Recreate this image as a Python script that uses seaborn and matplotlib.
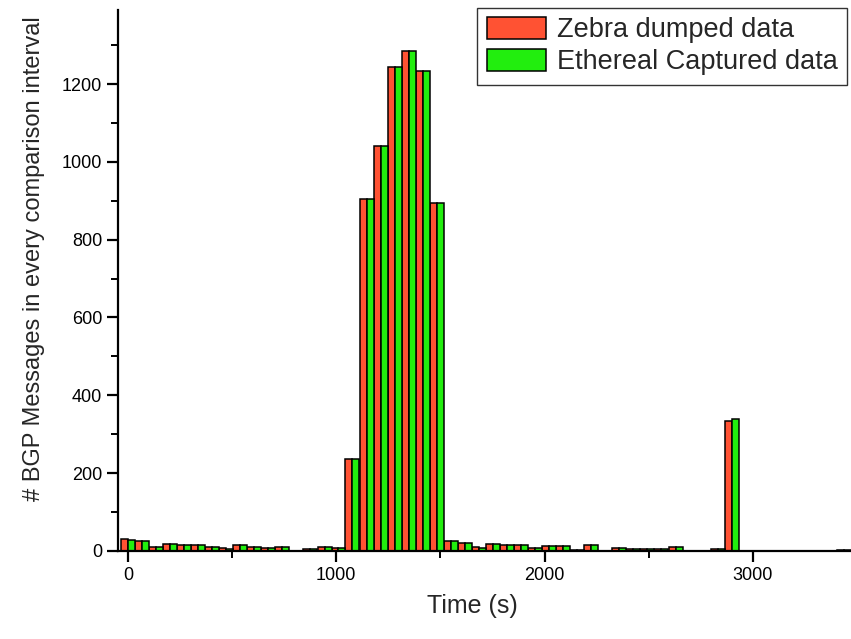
import matplotlib
matplotlib.use("Agg")
import matplotlib.pyplot as plt
import seaborn as sns
import pandas as pd
from matplotlib.ticker import MultipleLocator

# ---- data ----
times = [0, 67, 135, 202, 270, 337, 404, 472, 539, 607, 674, 741, 809, 876,
         944, 1011, 1078, 1146, 1213, 1281, 1348, 1415, 1483, 1550, 1618,
         1685, 1752, 1820, 1887, 1955, 2022, 2089, 2157, 2224, 2292, 2359,
         2426, 2494, 2561, 2629, 2696, 2763, 2831, 2898, 2966, 3033, 3100,
         3168, 3235, 3303, 3370, 3437]
zebra = [30, 24, 11, 17, 15, 14, 9, 6, 14, 9, 6, 9, 0, 5,
         10, 6, 235, 905, 1040, 1245, 1285, 1235, 895, 24, 20,
         9, 17, 14, 14, 7, 12, 12, 2, 14, 0, 7,
         4, 4, 4, 9, 0, 0, 4, 335, 0, 0, 0,
         0, 0, 0, 0, 2]
ethereal = [28, 24, 9, 17, 15, 14, 9, 5, 14, 9, 6, 9, 0, 5,
            10, 6, 235, 905, 1040, 1245, 1285, 1235, 895, 24, 20,
            8, 17, 14, 14, 7, 12, 12, 2, 14, 0, 6,
            4, 4, 4, 9, 0, 0, 4, 338, 0, 0, 0,
            0, 0, 0, 0, 2]
series_names = ["Zebra dumped data", "Ethereal Captured data"]
colors = ["#FF5233", "#22EE0E"]

df = pd.concat([
    pd.DataFrame({"time": times, "count": zebra, "source": series_names[0]}),
    pd.DataFrame({"time": times, "count": ethereal, "source": series_names[1]}),
], ignore_index=True)

sns.set_style("ticks")
plt.rcParams["font.family"] = ["Liberation Sans", "DejaVu Sans"]

fig = plt.figure(figsize=(8.51, 6.39), dpi=100)
ax = fig.add_axes([0.139, 0.138, 0.861, 0.846])

sns.barplot(data=df, x="time", y="count", hue="source", native_scale=True,
            width=1.0, palette=colors, hue_order=series_names, saturation=1,
            edgecolor="black", linewidth=1.1, errorbar=None, ax=ax)

ax.set_xlim(-46, 3471)
ax.set_ylim(0, 1390)
ax.xaxis.set_major_locator(MultipleLocator(1000))
ax.xaxis.set_minor_locator(MultipleLocator(500))
ax.yaxis.set_major_locator(MultipleLocator(200))
ax.yaxis.set_minor_locator(MultipleLocator(100))

for s in ["top", "right"]:
    ax.spines[s].set_visible(False)
for s in ["left", "bottom"]:
    ax.spines[s].set_linewidth(1.6)
    ax.spines[s].set_color("black")

ax.tick_params(which="major", direction="out", length=8, width=1.6,
               labelsize=13, colors="black")
ax.tick_params(which="minor", direction="out", length=5, width=1.4,
               colors="black")

ax.set_xlabel("Time (s)", fontsize=18)
ax.set_ylabel("# BGP Messages in every comparison interval", fontsize=17)
ax.xaxis.set_label_coords(0.483, -0.08)
ax.yaxis.set_label_coords(-0.10, 0.54)

handles, labels = ax.get_legend_handles_labels()
if ax.get_legend() is not None:
    ax.get_legend().remove()
leg = ax.legend(handles, labels, loc="upper right", bbox_to_anchor=(0.995, 1.005),
                fontsize=19.5, frameon=True, fancybox=False, edgecolor="black",
                handlelength=2.2, handleheight=0.85, handletextpad=0.4,
                borderpad=0.35, labelspacing=0.22, borderaxespad=0)
leg.get_frame().set_linewidth(1.0)

fig.savefig("out.png", dpi=100)
